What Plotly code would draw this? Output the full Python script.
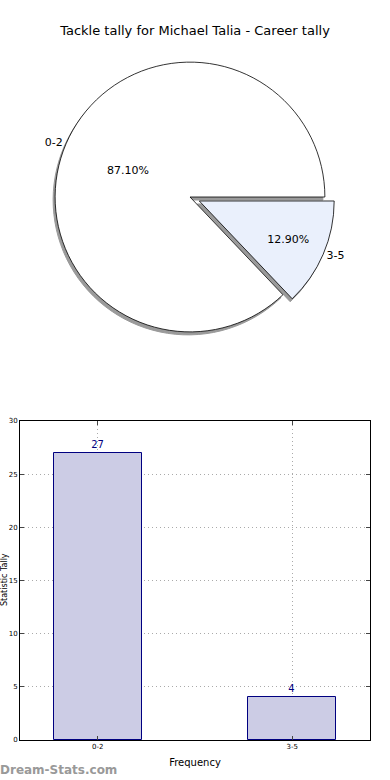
import plotly.graph_objects as go

categories = ["0-2", "3-5"]
counts = [27, 4]
y_ticks = [0, 5, 10, 15, 20, 25, 30]
title_text = "Tackle tally for Michael Talia - Career tally"

W, H = 390, 780
FONT = "DejaVu Sans"

def px_x(p):
    return p / W

def px_y(p):
    return 1 - p / H

# pie geometry (pixels)
cx, cy, half = 190, 197, 145
pull = [0, 0.075]
dom_x = [px_x(cx - half), px_x(cx + half)]
dom_y = [px_y(cy + half), px_y(cy - half)]
# matplotlib starts the first wedge at 3 o'clock and goes counterclockwise
total = sum(counts)
rot = 90 + 360 * (total - counts[0]) / total

fig = go.Figure()

# shadow pie
fig.add_trace(go.Pie(
    labels=categories, values=counts, sort=False, direction="counterclockwise",
    rotation=rot, pull=pull, textinfo="none", hoverinfo="skip",
    marker=dict(colors=["#9a9a9a", "#9a9a9a"], line=dict(color="#9a9a9a", width=1)),
    domain=dict(x=[dom_x[0] - 2 / W, dom_x[1] - 2 / W], y=[dom_y[0] - 3 / H, dom_y[1] - 3 / H]),
    showlegend=False,
))

# main pie with percentages inside
fig.add_trace(go.Pie(
    labels=categories, values=counts, sort=False, direction="counterclockwise",
    rotation=rot, pull=pull, texttemplate="%{percent:.2%}", textposition="inside",
    insidetextorientation="horizontal",
    textfont=dict(family=FONT, size=11, color="black"),
    marker=dict(colors=["#ffffff", "#eaf0fc"], line=dict(color="black", width=0.8)),
    domain=dict(x=dom_x, y=dom_y), showlegend=False,
))

# transparent overlay carrying outside category labels
fig.add_trace(go.Pie(
    labels=categories, values=counts, sort=False, direction="counterclockwise",
    rotation=rot, pull=pull, textinfo="label", textposition="outside",
    textfont=dict(family=FONT, size=11, color="black"), hoverinfo="skip",
    marker=dict(colors=["rgba(0,0,0,0)", "rgba(0,0,0,0)"], line=dict(width=0)),
    domain=dict(x=dom_x, y=dom_y), showlegend=False,
))

# bar chart
fig.add_trace(go.Bar(
    x=categories, y=counts, width=0.45, text=[str(c) for c in counts],
    textposition="outside", cliponaxis=False,
    textfont=dict(family=FONT, size=10, color="#000080"),
    marker=dict(color="#ccccE5", line=dict(color="#000080", width=1)),
    xaxis="x", yaxis="y", showlegend=False,
))

fig.update_layout(
    width=W, height=H, margin=dict(l=0, r=0, t=0, b=0),
    paper_bgcolor="white", plot_bgcolor="white",
    font=dict(family=FONT, color="black"),
    title=dict(text=title_text, x=0.5, xanchor="center", y=px_y(30), yanchor="middle",
               font=dict(family=FONT, size=13, color="black")),
    xaxis=dict(domain=[px_x(20), px_x(370)], range=[-0.4, 1.4], type="category",
               showgrid=True, gridcolor="#aaaaaa", griddash="1px,3px", gridwidth=1,
               showline=True, linecolor="black", linewidth=1, mirror="allticks",
               ticks="inside", ticklen=4, tickcolor="#444444",
               tickfont=dict(family=FONT, size=7, color="black"),
               title=dict(text="Frequency", font=dict(family=FONT, size=10), standoff=8),
               anchor="y", zeroline=False, automargin=False),
    yaxis=dict(domain=[px_y(740), px_y(421)], range=[0, 30], tickvals=y_ticks,
               showgrid=True, gridcolor="#aaaaaa", griddash="1px,3px", gridwidth=1,
               showline=True, linecolor="black", linewidth=1, mirror="allticks",
               ticks="inside", ticklen=4, tickcolor="#444444",
               tickfont=dict(family=FONT, size=7, color="black"),
               anchor="x", zeroline=False, automargin=False),
    bargap=0,
    annotations=[
        dict(text="Statistic Tally", xref="paper", yref="paper", x=px_x(4), y=px_y(580),
             xanchor="center", yanchor="middle", textangle=-90, showarrow=False,
             font=dict(family=FONT, size=8, color="black")),
        dict(text="<b>Dream-Stats.com</b>", xref="paper", yref="paper", x=px_x(-2), y=px_y(770),
             xanchor="left", yanchor="middle", showarrow=False,
             font=dict(family=FONT, size=12, color="#999999")),
    ],
)

fig.write_html(
    "out.html",
    config={"displayModeBar": False},
    post_script="document.body.style.margin='0';document.body.style.overflow='hidden';"
                "document.documentElement.style.overflow='hidden';",
)
